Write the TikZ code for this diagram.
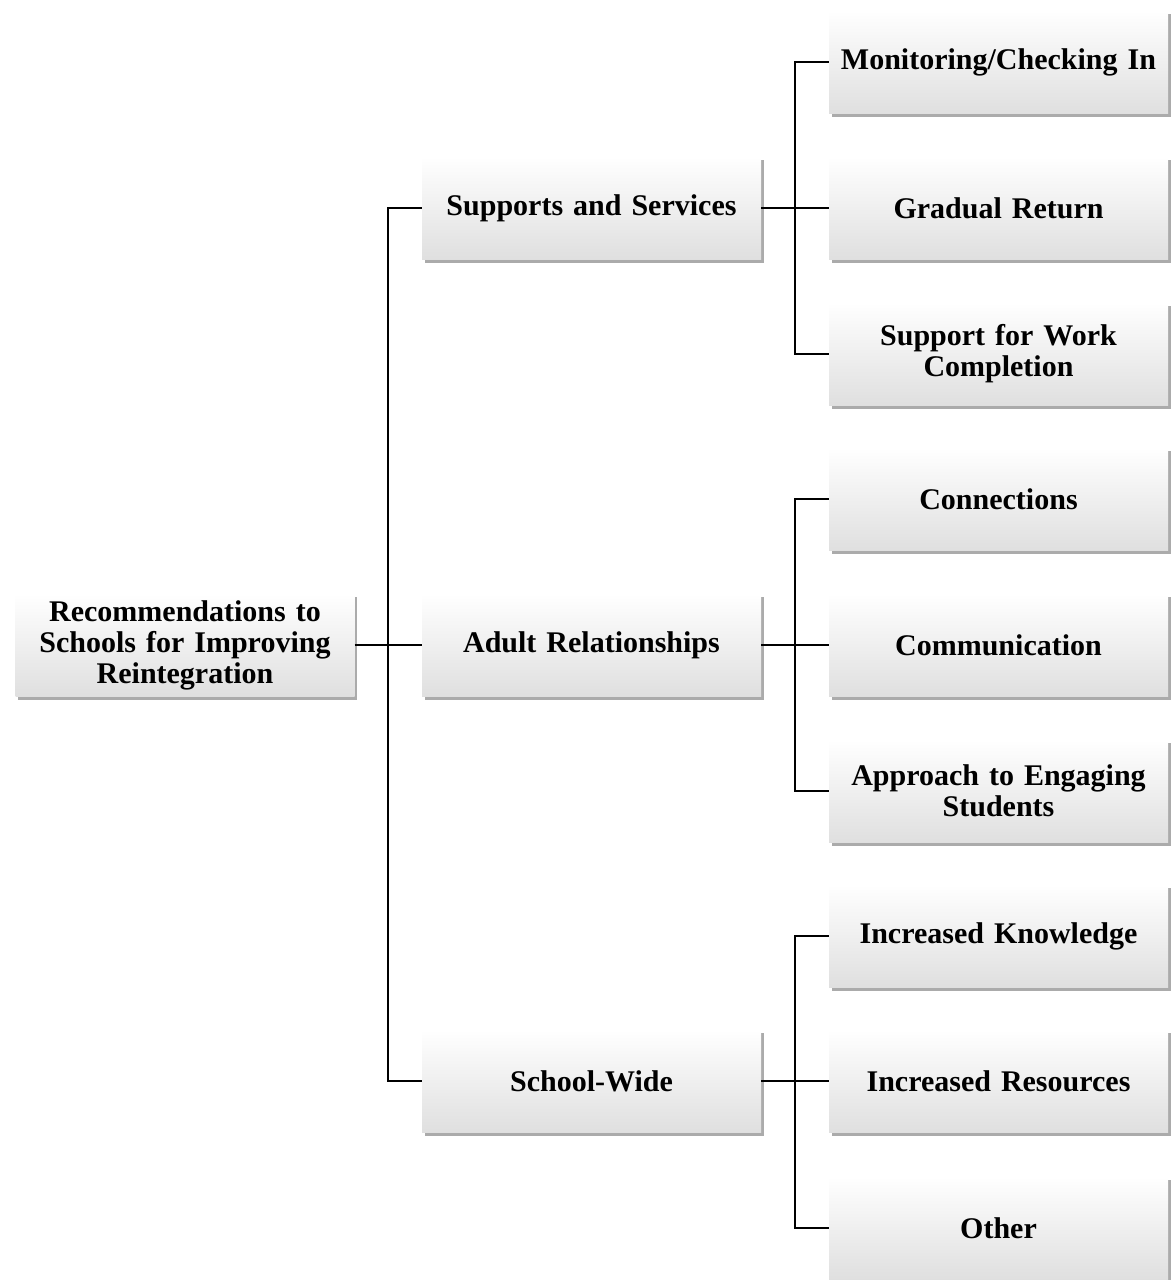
\documentclass[tikz,border=0pt]{standalone}
\usepackage{fontspec}
\setmainfont{Liberation Serif}
\usetikzlibrary{shadows}
\begin{document}
\begin{tikzpicture}[x=1pt,y=-1pt,
  box/.style={draw=none, minimum width=339pt, minimum height=103pt, text width=325pt, align=center,
    top color=white, middle color=white, bottom color=gray!25, inner sep=0pt,
    font=\fontsize{30}{31}\selectfont\bfseries,
    drop shadow={shadow xshift=2.5pt, shadow yshift=-3.5pt, fill=black!60, opacity=0.55}},
  conn/.style={line width=2.2pt, black}]
\useasboundingbox (0,0) rectangle (1173,1280);
% root
\node[box] (root) at (185,645) {Recommendations to\\Schools for Improving\\Reintegration};
% middle
\node[box] (ss) at (591.5,208) {Supports and Services};
\node[box] (ar) at (591.5,645) {Adult Relationships};
\node[box] (sw) at (591.5,1081) {School-Wide};
% right
\node[box] (m1) at (998.5,62) {Monitoring/Checking In};
\node[box] (m2) at (998.5,208) {Gradual Return};
\node[box] (m3) at (998.5,354) {Support for Work\\Completion};
\node[box] (a1) at (998.5,499) {Connections};
\node[box] (a2) at (998.5,645) {Communication};
\node[box] (a3) at (998.5,791) {Approach to Engaging\\Students};
\node[box] (s1) at (998.5,936) {Increased Knowledge};
\node[box] (s2) at (998.5,1081) {Increased Resources};
\node[box] (s3) at (998.5,1228) {Other};
% connectors
\draw[conn] (ss.west) -- ++(-34,0) |- (sw.west);
\draw[conn] (root.east) -- (ar.west);
\draw[conn] (m1.west) -- ++(-34,0) |- (m3.west);
\draw[conn] (ss.east) -- (m2.west);
\draw[conn] (a1.west) -- ++(-34,0) |- (a3.west);
\draw[conn] (ar.east) -- (a2.west);
\draw[conn] (s1.west) -- ++(-34,0) |- (s3.west);
\draw[conn] (sw.east) -- (s2.west);
\end{tikzpicture}
\end{document}
